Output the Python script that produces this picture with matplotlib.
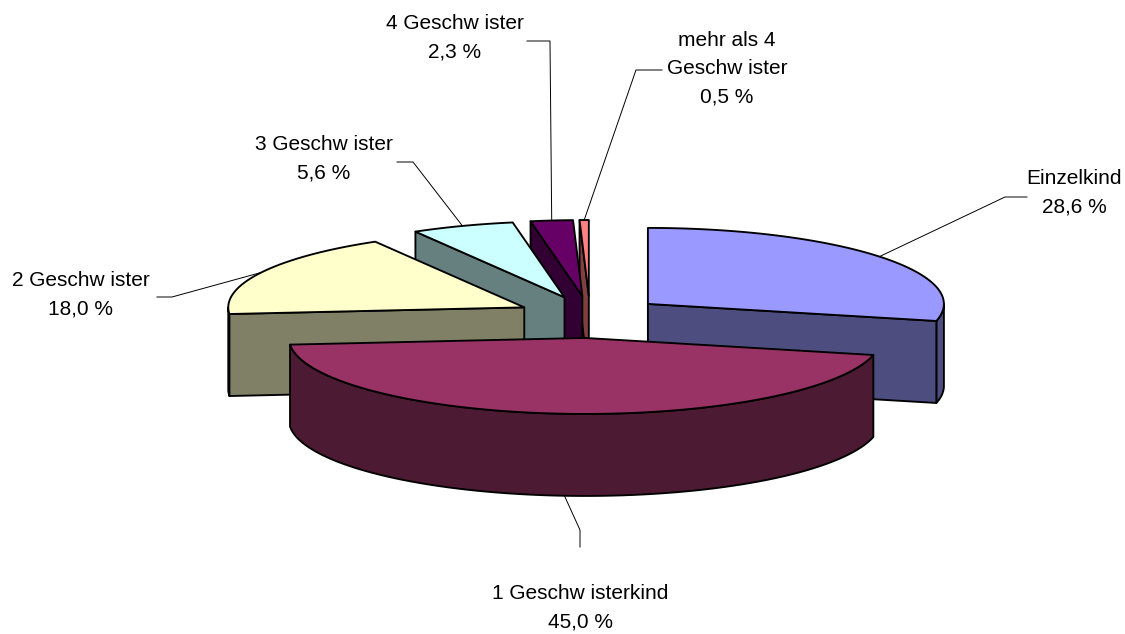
# -*- coding: utf-8 -*-
"""Exploded 3D pie: number of siblings, drawn by hand as projected polygons."""

import numpy as np
import matplotlib
matplotlib.use("Agg")
import matplotlib.pyplot as plt
from matplotlib.patches import Polygon

categories = ["Einzelkind", "1 Geschw isterkind", "2 Geschw ister",
              "3 Geschw ister", "4 Geschw ister", "mehr als 4\nGeschw ister"]
values = [28.6, 45.0, 18.0, 5.6, 2.3, 0.5]
value_labels = ["28,6 %", "45,0 %", "18,0 %", "5,6 %", "2,3 %", "0,5 %"]

TOP_COLORS = ["#9999FF", "#993366", "#FFFFCC", "#CCFFFF", "#660066", "#FF8080"]
WALL_COLORS = ["#4D4D80", "#4D1A33", "#808066", "#668080", "#330033", "#804040"]

# projection, in pixels of the output image
CX, CY = 590, 317
RX, RY = 296, 76
DEPTH = 82
EXPLODE_X, EXPLODE_Y = 74, 21

# label centre, leader elbow, leader end next to the label
LABEL_POS = [(1074, 193), (580, 608), (81, 295), (324, 159), (455, 38), (727, 69)]
LEADER_ELBOW = [(1005, 197), (580, 530), (172, 297), (413, 162), (550, 41), (636, 70)]
LEADER_END = [(1027, 197), (580, 547), (157, 297), (397, 162), (527, 41), (662, 70)]
LEADER_RIM_DROP = [0, 1, 0, 0, 0, 0]  # main slice leader starts at the wall bottom


def rim(apex, th):
    return np.column_stack([apex[0] + RX * np.sin(th), apex[1] - RY * np.cos(th)])


def draw_slice(ax, apex, t0, t1, top, wall, z):
    line = dict(edgecolor="black", linewidth=1.35, joinstyle="round")
    down = np.array([0, DEPTH])

    # outer wall only where the rim faces the viewer
    a, b = max(t0, np.pi / 2), min(t1, 3 * np.pi / 2)
    if a < b:
        arc = rim(apex, np.linspace(a, b, 80))
        ax.add_patch(Polygon(np.vstack([arc, (arc + down)[::-1]]), facecolor=wall,
                             zorder=z, **line))

    # cut faces
    for th, visible in [(t0, t0 > np.pi), (t1, t1 < np.pi)]:
        if visible:
            p = rim(apex, np.array([th]))[0]
            pts = [apex, p, p + down, np.array(apex) + down]
            ax.add_patch(Polygon(pts, facecolor=wall, zorder=z + 0.1, **line))

    arc = rim(apex, np.linspace(t0, t1, 80))
    ax.add_patch(Polygon(np.vstack([[apex], arc]), facecolor=top, zorder=z + 0.2, **line))


def main():
    plt.rcParams["font.family"] = ["Liberation Sans", "DejaVu Sans"]
    fig = plt.figure(figsize=(11.25, 6.34), dpi=100)
    ax = fig.add_axes([0, 0, 1, 1])
    ax.set_xlim(0, 1125)
    ax.set_ylim(634, 0)
    ax.axis("off")

    frac = np.array(values) / sum(values)
    edges = np.concatenate([[0], np.cumsum(frac)]) * 2 * np.pi
    mids = (edges[:-1] + edges[1:]) / 2

    # back to front: first slice, then from the small ones to the big front one
    order = [0, 5, 4, 3, 2, 1]
    for z, i in enumerate(order):
        apex = (CX + EXPLODE_X * np.sin(mids[i]), CY - EXPLODE_Y * np.cos(mids[i]))
        draw_slice(ax, apex, edges[i], edges[i + 1], TOP_COLORS[i], WALL_COLORS[i], 2 + z)

        start = rim(apex, np.array([mids[i]]))[0] + [0, DEPTH * LEADER_RIM_DROP[i]]
        xs = [start[0], LEADER_ELBOW[i][0], LEADER_END[i][0]]
        ys = [start[1], LEADER_ELBOW[i][1], LEADER_END[i][1]]
        ax.plot(xs, ys, color="black", lw=0.7, zorder=1)

        ax.text(LABEL_POS[i][0], LABEL_POS[i][1], f"{categories[i]}\n{value_labels[i]}",
                ha="center", va="center", fontsize=15.0, linespacing=1.62, zorder=11)

    fig.savefig("out.png", dpi=100)


if __name__ == "__main__":
    main()
